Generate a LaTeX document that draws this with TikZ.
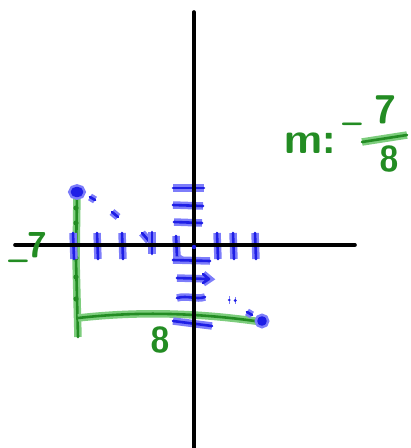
\documentclass[tikz,border=0pt]{standalone}
\usepackage{fontspec}
\definecolor{penblue}{RGB}{30,30,230}
\definecolor{haloblue}{RGB}{125,125,250}
\definecolor{pengreen}{RGB}{35,140,35}
\definecolor{halogreen}{RGB}{125,205,125}
\begin{document}
\begin{tikzpicture}[x=1pt,y=-1pt,
	axisline/.style={line width=3.6pt,line cap=round},
	bluepen/.style={draw=penblue,line width=2.6pt,line cap=round,line join=round,
		preaction={draw=haloblue,line width=7.5pt}},
	greenpen/.style={draw=pengreen,line width=2.6pt,line cap=round,line join=round,
		preaction={draw=halogreen,line width=7.5pt}},
	greentext/.style={text=pengreen,inner sep=0pt,font=\sffamily\bfseries\fontsize{36}{36}\selectfont}]
\useasboundingbox (0,0) rectangle (411,448);
%
	\draw[greenpen] (77,193) -- (76,260) -- (78,337);
	\draw[greenpen] (78,318) .. controls (140,311) and (200,313) .. (262,322);
	\foreach \y in {208,223,258,277,299}
		\fill[pengreen] (76,\y) circle (2.6);
%
	\foreach \x in {73,97,122,217,233,255}
		\draw[bluepen] (\x,233) -- (\x+1,259);
	\draw[bluepen] (142,233) -- (149,241);
	\draw[bluepen] (152,232) -- (152,254);
	\draw[bluepen] (176,236) -- (177,257) -- (183,261);
%
	\draw[bluepen] (173,188) -- (204,188);
	\draw[bluepen] (173,205) -- (203,206);
	\draw[bluepen] (174,222) -- (202,223);
	\draw[bluepen] (173,260) -- (210,261);
	\draw[bluepen] (177,278) -- (208,279) (203,274) -- (209,279) -- (203,283);
	\draw[bluepen] (177,298) .. controls (188,295) and (196,300) .. (205,297);
	\draw[bluepen] (173,321) -- (212,326);
%
	\draw[bluepen] (90,197) -- (95,200);
	\draw[bluepen] (112,212) -- (118,217);
	\draw[bluepen] (229,300) -- (229.5,300) (235,300.5) -- (235.5,300.5);
	\draw[bluepen] (247,312) -- (252,315);
	\draw[bluepen,fill=penblue] (77,192) ellipse (5 and 4);
	\draw[bluepen,fill=penblue] (262,321) circle (3.5);
%
	\draw[axisline] (194,12) -- (194,448);
	\draw[axisline] (15,245) -- (355,245);
	\fill[penblue] (194,247) circle (2.2);
%
	\node[greentext] (xlabel) at (28,252) {\raisebox{-0.9ex}{\textendash}\kern-1pt7};
	\node[greentext] (runlabel) at (160,340) {8};
	\node[greentext,font=\sffamily\bfseries\fontsize{44}{44}\selectfont] (slopelabel) at (310,143) {m:};
	\node[greentext] (slopesign) at (352,129) {\textendash};
	\node[greentext,font=\sffamily\bfseries\fontsize{40}{40}\selectfont] (slopenum) at (385,110) {7};
	\node[greentext] (slopeden) at (389,159) {8};
	\draw[greenpen] (362,142) -- (407,135);
\end{tikzpicture}
\end{document}
